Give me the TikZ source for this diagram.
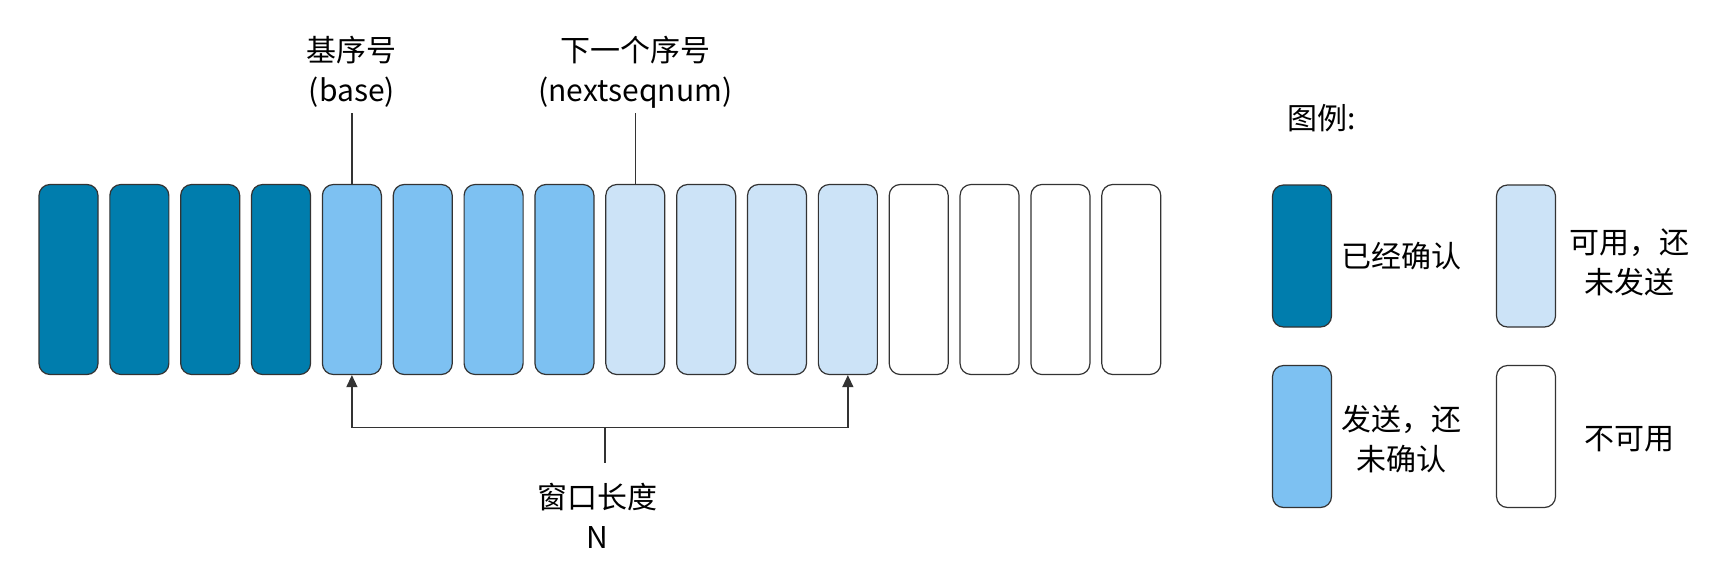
\documentclass[tikz,border=0pt]{standalone}
\usepackage{fontspec}
\setmainfont{Noto Sans CJK SC}
\usetikzlibrary{arrows.meta}
\definecolor{cdark}{HTML}{007DAD}
\definecolor{cmid}{HTML}{7DC1F2}
\definecolor{clight}{HTML}{CCE3F7}
\definecolor{lineg}{HTML}{333333}
\begin{document}
\begin{tikzpicture}[x=1pt,y=-1pt,
  font=\fontsize{30}{40}\selectfont,
  slot/.style={draw=lineg, line width=1.2pt, rounded corners=11pt,
    minimum width=59pt, minimum height=190pt, inner sep=0pt},
  legbox/.style={draw=lineg, line width=1.2pt, rounded corners=11pt,
    minimum width=59pt, minimum height=142pt, inner sep=0pt},
  lbl/.style={align=center, inner sep=0pt, text=black},
  conn/.style={draw=lineg, line width=1.3pt},
  arr/.style={conn, -{Triangle[length=12pt,width=11pt]}}]
\useasboundingbox (0,0) rectangle (1723,562);
% slots
\foreach \i/\c in {0/cdark,1/cdark,2/cdark,3/cdark,4/cmid,5/cmid,6/cmid,7/cmid,
                   8/clight,9/clight,10/clight,11/clight,12/white,13/white,14/white,15/white}{
  \node[slot, fill=\c] (b\i) at ({68.5+70.85*\i},279.5) {};
}
% labels top
\node[lbl] (lbase) at (b4.north |- 0,72) {基序号\\(base)};
\node[lbl] (lnext) at (b8.north |- 0,72) {下一个序号\\(nextseqnum)};
\coordinate (cbase) at (b4.north |- 0,113);
\coordinate (cnext) at (b8.north |- 0,113);
\draw[conn] (b4.north) -- (cbase);
\draw[conn] (b8.north) -- (cnext);
% window bracket
\coordinate (wl) at (b4.south |- 0,427.7);
\coordinate (wr) at (b11.south |- 0,427.7);
\coordinate (wm) at (605,427.7);
\coordinate (wmb) at (605,463);
\draw[arr] (wl) -- (b4.south);
\draw[arr] (wr) -- (b11.south);
\draw[conn] (wl) -- (wr);
\draw[conn] (wm) -- (wmb);
\node[lbl] (lwin) at (597,516) {窗口长度\\N};
% legend
\node[lbl, anchor=west] (ltitle) at (1287,118) {图例:};
\node[legbox, fill=cdark] (g1) at (1302,256) {};
\node[legbox, fill=clight] (g2) at (1526,256) {};
\node[legbox, fill=cmid] (g3) at (1302,436.5) {};
\node[legbox, fill=white] (g4) at (1526,436.5) {};
\node[lbl] (t1) at (1401,256) {已经确认};
\node[lbl] (t2) at (1629,262) {可用，还\\未发送};
\node[lbl] (t3) at (1401,439) {发送，还\\未确认};
\node[lbl] (t4) at (1629,439) {不可用};
\end{tikzpicture}
\end{document}
